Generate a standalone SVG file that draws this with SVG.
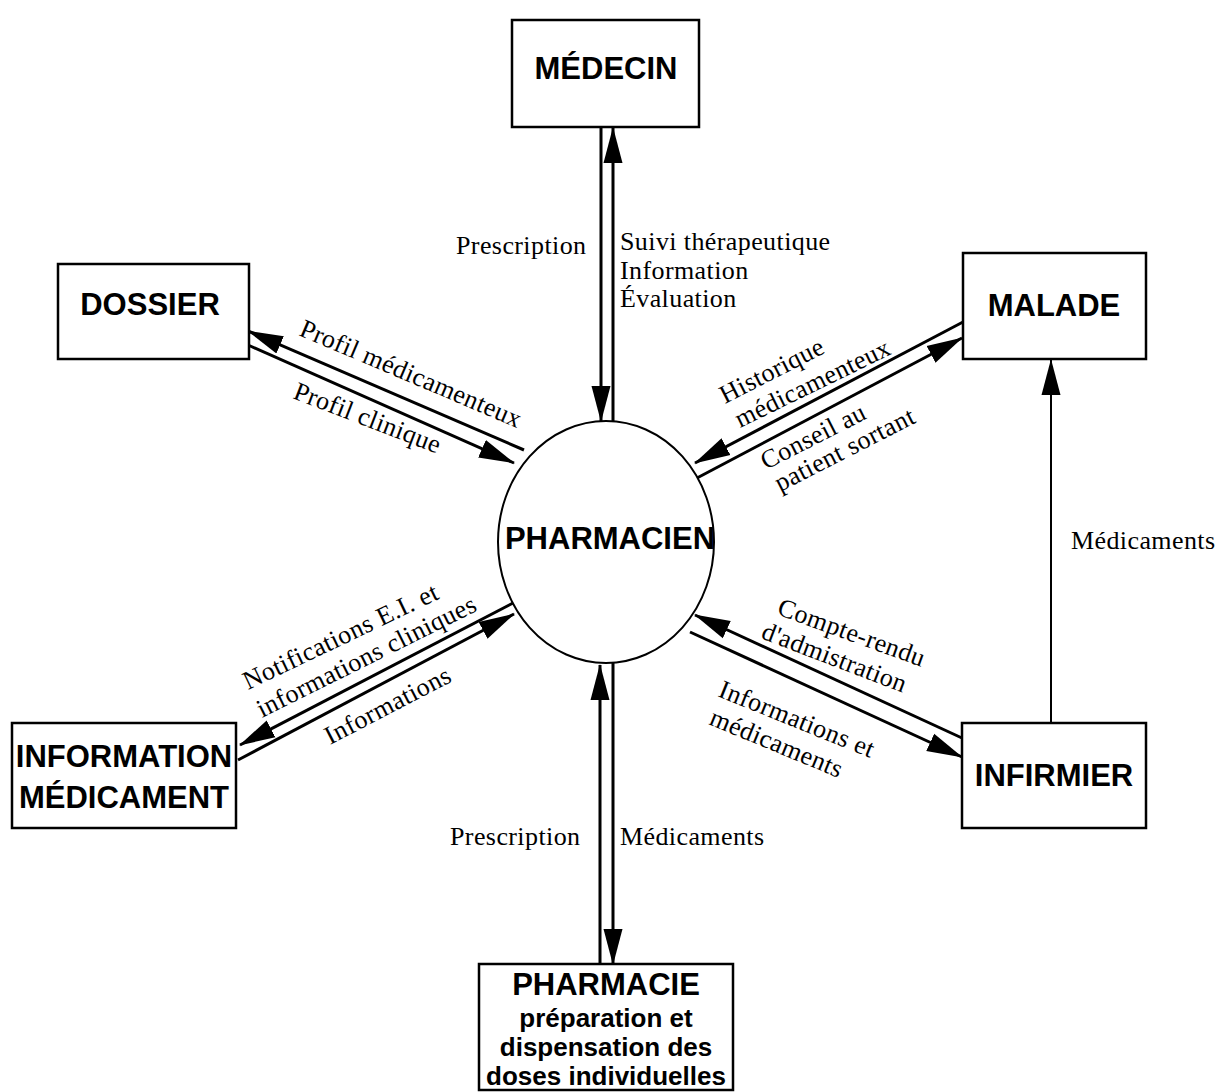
<svg xmlns="http://www.w3.org/2000/svg" width="1216" height="1092" viewBox="0 0 1216 1092">
<defs>
<style>
.box{fill:#fff;stroke:#000;stroke-width:2.5}
.ell{fill:#fff;stroke:#000;stroke-width:2}
.name{font-family:"Liberation Sans",Arial,sans-serif;font-weight:bold;font-size:31px;fill:#000;text-anchor:middle}
.sub{font-family:"Liberation Sans",Arial,sans-serif;font-weight:bold;font-size:26px;fill:#000;text-anchor:middle}
.lbl{font-family:"Liberation Serif","Times New Roman",serif;font-size:26px;letter-spacing:0.4px;fill:#000}
.c{fill:none;stroke:#000;stroke-width:3}
.thin{fill:none;stroke:#000;stroke-width:2}
</style>
<marker id="ah" markerUnits="userSpaceOnUse" markerWidth="36" markerHeight="20" viewBox="0 0 36 20" refX="35" refY="10" orient="auto">
<path d="M0,0.5 L36,10 L0,19.5 z" fill="#000"/>
</marker>
</defs>
<rect width="1216" height="1092" fill="#fff"/>
<g id="connectors">
<line class="c" x1="601" y1="127" x2="601" y2="421" marker-end="url(#ah)"/>
<line class="c" x1="613" y1="431" x2="613" y2="128" marker-end="url(#ah)"/>
<line class="c" x1="524" y1="450" x2="248" y2="331" marker-end="url(#ah)"/>
<line class="c" x1="248" y1="345" x2="514" y2="463" marker-end="url(#ah)"/>
<line class="c" x1="963" y1="322" x2="695" y2="463" marker-end="url(#ah)"/>
<line class="c" x1="697" y1="478" x2="962" y2="338" marker-end="url(#ah)"/>
<line class="c" x1="515" y1="602" x2="240" y2="745" marker-end="url(#ah)"/>
<line class="c" x1="238" y1="760" x2="514" y2="614" marker-end="url(#ah)"/>
<line class="c" x1="962" y1="738" x2="695" y2="615" marker-end="url(#ah)"/>
<line class="c" x1="690" y1="632" x2="962" y2="757" marker-end="url(#ah)"/>
<line class="c" x1="600" y1="964" x2="600" y2="665" marker-end="url(#ah)"/>
<line class="c" x1="613" y1="663" x2="613" y2="964" marker-end="url(#ah)"/>
<line class="thin" x1="1051" y1="723" x2="1051" y2="360" marker-end="url(#ah)"/>
</g>
<g id="labels">
<text class="lbl" x="456" y="254">Prescription</text>
<text class="lbl" x="620" y="250">Suivi thérapeutique</text>
<text class="lbl" x="620" y="279">Information</text>
<text class="lbl" x="620" y="307">Évaluation</text>
<text class="lbl" transform="translate(298,335) rotate(23)">Profil médicamenteux</text>
<text class="lbl" transform="translate(292,398) rotate(21)">Profil clinique</text>
<text class="lbl" transform="translate(725,404) rotate(-27)">Historique</text>
<text class="lbl" transform="translate(740,428) rotate(-26)">médicamenteux</text>
<text class="lbl" transform="translate(766,470) rotate(-27)">Conseil au</text>
<text class="lbl" transform="translate(780,492) rotate(-27)">patient sortant</text>
<text class="lbl" transform="translate(248,690) rotate(-25.5)">Notifications E.I. et</text>
<text class="lbl" transform="translate(262,718) rotate(-26.5)">informations cliniques</text>
<text class="lbl" transform="translate(330,745) rotate(-27.5)">Informations</text>
<text class="lbl" transform="translate(776,614) rotate(20)">Compte-rendu</text>
<text class="lbl" transform="translate(760,638) rotate(21)">d'admistration</text>
<text class="lbl" transform="translate(717,696) rotate(22)">Informations et</text>
<text class="lbl" transform="translate(708,724) rotate(22.5)">médicaments</text>
<text class="lbl" x="1071" y="549">Médicaments</text>
<text class="lbl" x="450" y="845">Prescription</text>
<text class="lbl" x="620" y="845">Médicaments</text>
</g>
<g id="medecin">
<rect class="box" x="512" y="20" width="187" height="107"/>
<text class="name" x="606" y="79">MÉDECIN</text>
</g>
<g id="dossier">
<rect class="box" x="58" y="264" width="191" height="95"/>
<text class="name" x="150" y="315">DOSSIER</text>
</g>
<g id="malade">
<rect class="box" x="963" y="253" width="183" height="106"/>
<text class="name" x="1054" y="316">MALADE</text>
</g>
<g id="infirmier">
<rect class="box" x="962" y="723" width="184" height="105"/>
<text class="name" x="1054" y="786">INFIRMIER</text>
</g>
<g id="information-medicament">
<rect class="box" x="12" y="723" width="224" height="105"/>
<text class="name" x="124" y="767">INFORMATION</text>
<text class="name" x="124" y="808">MÉDICAMENT</text>
</g>
<g id="pharmacien">
<ellipse class="ell" cx="606" cy="542" rx="108" ry="121"/>
<text class="name" x="610" y="549">PHARMACIEN</text>
</g>
<g id="pharmacie">
<rect class="box" x="479" y="964" width="254" height="126"/>
<text class="name" x="606" y="995">PHARMACIE</text>
<text class="sub" x="606" y="1027">préparation et</text>
<text class="sub" x="606" y="1056">dispensation des</text>
<text class="sub" x="606" y="1085">doses individuelles</text>
</g>
</svg>
